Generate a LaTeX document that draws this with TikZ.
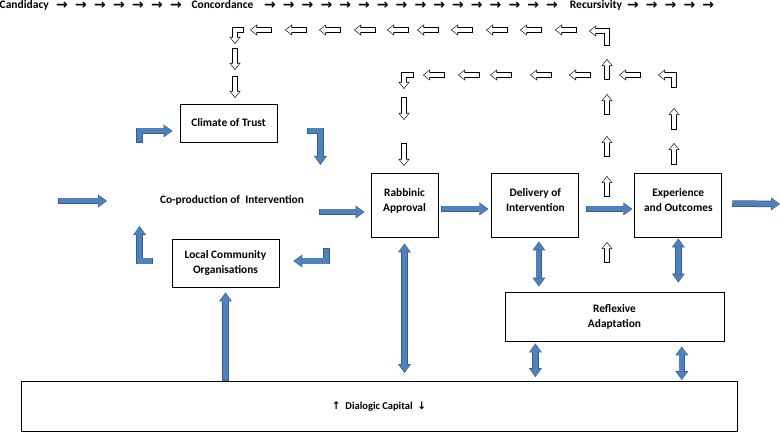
\documentclass[tikz,border=0pt]{standalone}
\usepackage{fontspec}
\setmainfont{Carlito}
\newfontfamily\symfont{DejaVu Sans}
\newfontfamily\symboldfont{DejaVu Sans Bold}
\usetikzlibrary{arrows.meta,positioning,calc}

\definecolor{bluefill}{HTML}{4F81BD}
\definecolor{bluedark}{HTML}{385D8A}
\newcommand{\boxfont}{\fontsize{11.4}{15}\selectfont\bfseries}
\newcommand{\rowfont}{\fontsize{11.5}{13}\selectfont\bfseries}

\tikzset{
  blueTip/.tip={Triangle[width=10.5pt,length=7.3pt,line width=0pt]},
  blueOut/.tip={Triangle[width=13pt,length=9pt,line width=0pt]},
  holTip/.tip={Triangle[width=8.6pt,length=5.4pt,line width=0pt]},
  holOut/.tip={Triangle[width=11pt,length=7pt,line width=0pt]},
  box/.style={draw, line width=0.9pt, align=center, font=\boxfont, inner sep=2pt},
  stagebox/.style={box, minimum width=87pt, minimum height=64pt, text depth=10pt},
  rowtext/.style={font=\rowfont, inner sep=0pt, anchor=base},
  rowarrow/.style={font=\symboldfont\fontsize{14}{14}\selectfont, inner sep=0pt, anchor=base},
  bluearrow/.style={draw=bluefill, line width=5pt, line join=miter,
    shorten <=0.75pt, shorten >=1pt, -blueTip,
    preaction={draw=bluedark, line width=6.5pt, shorten <=0pt, shorten >=0pt, -blueOut}},
  bluedouble/.style={draw=bluefill, line width=5pt,
    shorten <=1pt, shorten >=1pt, blueTip-blueTip,
    preaction={draw=bluedark, line width=6.5pt, shorten <=0pt, shorten >=0pt, blueOut-blueOut}},
  hollow/.style={draw=white, line width=3.8pt, line join=miter,
    shorten <=0.8pt, shorten >=1pt, -holTip,
    preaction={draw=black, line width=5.4pt, shorten <=0pt, shorten >=0pt, -holOut}},
}

\begin{document}
\begin{tikzpicture}[x=1pt,y=-1pt]
  \useasboundingbox (0,0) rectangle (780,433);

  % stages along the top
  \node[rowtext, anchor=base west] (cand) at (-0.5,8.5) {Candidacy};
  \node[rowtext] (conc) at (222.5,8.5) {Concordance};
  \node[rowtext] (recu) at (596,8.5) {Recursivity};
  \foreach \k in {0,...,6}
    \node[rowarrow] (ca\k) at (62+19*\k,10) {→};
  \foreach \k in {0,...,15}
    \node[rowarrow] (cb\k) at (270+18.8*\k,10) {→};
  \foreach \k in {0,...,4}
    \node[rowarrow] (cc\k) at (633+18.8*\k,10) {→};

  % boxes
  \node[box, minimum width=97pt, minimum height=38pt] (trust) at (228.5,123) {Climate of Trust};
  \node[box, minimum width=107pt, minimum height=48pt] (local) at (225.5,263) {Local Community\\Organisations};
  \node[font=\boxfont] (coprod) at (232,200) {Co-production of\ \ Intervention};
  \node[stagebox, minimum width=67pt] (rabbinic) at (404.5,205) {Rabbinic\\Approval};
  \node[stagebox, right=53pt of rabbinic] (delivery) {Delivery of\\Intervention};
  \node[stagebox, right=55pt of delivery] (experience) {Experience\\and Outcomes};
  \node[box, minimum width=219pt, minimum height=49pt] (reflexive) at (614.5,316.5) {Reflexive\\Adaptation};
  \node[box, minimum width=716pt, minimum height=50pt, font=\fontsize{10.5}{12}\selectfont\bfseries] (dialogic) at (379,406.5)
    {{\symfont ↑}\ \ Dialogic Capital\ \ {\symfont ↓}};

  % loop round the co-production
  \draw[bluearrow] ($(trust.west)+(-40,20)$) |- ($(trust.west)+(-7,8)$);
  \draw[bluearrow] ($(trust.east)+(30,8)$) -| ($(trust.east)+(43,42)$);
  \draw[bluearrow] ($(local.east)+(47,-15)$) |- ($(local.east)+(14,-2)$);
  \draw[bluearrow] ($(local.west)+(-19,-2)$) -| ($(local.west)+(-32,-37)$);

  % main flow
  \coordinate (instart) at (58,201);
  \coordinate (inend) at (107,201);
  \coordinate (out) at (780,204);
  \draw[bluearrow] (instart) -- (inend);
  \draw[bluearrow] ($(coprod.east)+(12,12)$) -- ($(rabbinic.west)+(-6,7)$);
  \draw[bluearrow] ($(rabbinic.east)+(3,4)$) -- ($(delivery.west)+(-3,4)$);
  \draw[bluearrow] ($(delivery.east)+(7,4)$) -- ($(experience.west)+(-2,4)$);
  \draw[bluearrow] ($(experience.east)+(10,-1.5)$) -- (out);

  % links to the capital
  \draw[bluearrow] (local.south |- dialogic.north) -- ($(local.south)+(0,5)$);
  \draw[bluedouble] ($(rabbinic.south)+(0,6)$) -- ($(rabbinic.south |- dialogic.north)+(0,-8)$);
  \draw[bluedouble] ($(delivery.south)+(3.5,4)$) -- ($(delivery.south |- reflexive.north)+(3.5,-5)$);
  \draw[bluedouble] ($(experience.south)+(0,1)$) -- ($(experience.south |- reflexive.north)+(0,-9)$);
  \draw[bluedouble] ($(reflexive.south -| delivery)+(0,2)$) -- ($(dialogic.north -| delivery)+(0,-4)$);
  \draw[bluedouble] ($(reflexive.south -| experience)+(3.5,5)$) -- ($(dialogic.north -| experience)+(3.5,-1)$);

  % feedback to climate of trust
  \draw[hollow] (607,46) |- (589,31);
  \foreach \x in {566,531,497,462,428,398,365,330,296,261}
    \draw[hollow] (\x+11,30) -- (\x-11,30);
  \draw[hollow] (244,30) -| (235,44);
  \foreach \y in {48,76}
    \draw[hollow] (235,\y) -- (235,\y+22);
  \foreach \y in {263,197,157,115,80}
    \draw[hollow] (607,\y) -- (607,\y-21);

  % feedback to rabbinic approval
  \draw[hollow] (674,88) |- (658,75);
  \foreach \x in {630,580,541,501,469,434}
    \draw[hollow] (\x+11,75) -- (\x-11,75);
  \draw[hollow] (414,75) -| (404,89);
  \foreach \y in {97,143}
    \draw[hollow] (404,\y) -- (404,\y+23);
  \foreach \y in {165,130}
    \draw[hollow] (674,\y) -- (674,\y-22);
\end{tikzpicture}
\end{document}
